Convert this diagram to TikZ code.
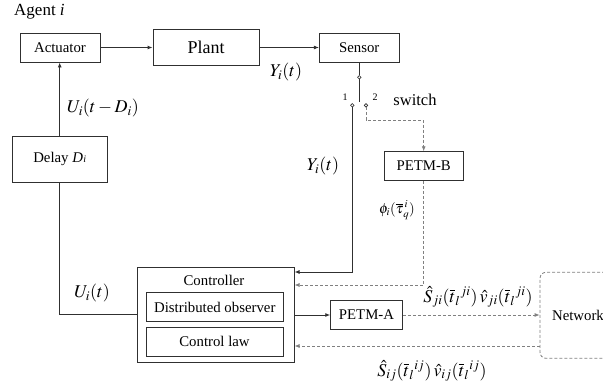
\documentclass[tikz,border=0pt]{standalone}
\usepackage{mathptmx}
\usepackage{fontspec}
\setmainfont{Liberation Serif}
\usetikzlibrary{arrows.meta}
\definecolor{ln}{HTML}{303030}
\definecolor{dl}{HTML}{808080}
\tikzset{
  blk/.style={draw=ln, line width=0.9pt, inner sep=0pt, font=\fontsize{14.8}{17}\selectfont},
  wire/.style={draw=ln, line width=0.9pt},
  dwire/.style={draw=dl, line width=0.8pt, dash pattern=on 3pt off 2pt},
  arr/.style={-{Latex[length=5pt,width=4pt]}},
  lbl/.style={inner sep=0pt, font=\fontsize{14.8}{17}\selectfont},
  mlbl/.style={inner sep=0pt, font=\fontsize{18}{21}\selectfont},
  sw/.style={circle, draw=ln, line width=0.7pt, fill=white, inner sep=0pt, minimum size=3.5pt},
}
\begin{document}
\begin{tikzpicture}[x=1pt,y=-1pt]
\useasboundingbox (0,0) rectangle (603,388);
\clip (0,0) rectangle (603,388);
\node[lbl, font=\fontsize{17}{20}\selectfont, anchor=west] (agent) at (14,12) {Agent \textit{i}};
\node[blk, minimum width=80pt, minimum height=29pt] (act) at (60,47.5) {Actuator};
\node[blk, minimum width=106pt, minimum height=36pt, font=\fontsize{18}{21}\selectfont] (plant) at (206,47) {Plant};
\node[blk, minimum width=79.7pt, minimum height=29pt] (sensor) at (359.2,47.5) {Sensor};
\node[blk, minimum width=95.3pt, minimum height=46.3pt] (delay) at (59.7,159.2) {Delay \textit{D\kern0.3pt\fontsize{10}{12}\selectfont i}};
\node[blk, minimum width=79.3pt, minimum height=28.6pt] (petmb) at (423.7,166) {PETM-B};
\node[blk, minimum width=156.7pt, minimum height=95.4pt] (ctrl) at (215.7,315) {};
\node[lbl] (ctrllbl) at (214,280.7) {Controller};
\node[blk, minimum width=137.7pt, minimum height=28.6pt] (obs) at (214.8,307) {Distributed observer};
\node[blk, minimum width=137pt, minimum height=28.7pt] (law) at (214.5,341.7) {Control law};
\node[blk, minimum width=71.6pt, minimum height=28.6pt] (petma) at (366.5,315) {PETM-A};
\node[blk, draw=dl, line width=0.8pt, dash pattern=on 3pt off 2pt, rounded corners=6pt, minimum width=76pt, minimum height=86pt] (net) at (578,315.3) {Network};

% switch
\node[sw] (swc) at (359.3,77.3) {};
\node[sw] (sw1) at (352.3,105.3) {};
\node[sw] (sw2) at (366,105.3) {};
\coordinate (blade) at (359.3,102);
\node[lbl, font=\fontsize{10}{12}\selectfont] (n1) at (345,97) {1};
\node[lbl, font=\fontsize{10}{12}\selectfont] (n2) at (375,97) {2};
\node[lbl, font=\fontsize{16.5}{19}\selectfont] (swl) at (415,100) {switch};

% connectors
\draw[wire, arr] (act.east) -- (plant.west |- act.east);
\draw[wire, arr] (plant.east |- sensor.west) -- (sensor.west);
\draw[wire, arr] (delay.north) -- (act.south -| delay.north);
\draw[wire] (delay.south) |- (ctrl.west |- 0,314.3);
\draw[wire] (sensor.south -| swc) -- (swc.north);
\draw[wire] (swc.south) -- (blade);
\draw[wire, arr] (sw1.south) |- (ctrl.east |- 0,272);
\draw[dwire, arr] (sw2.south) |- (423.7,120) -- (petmb.north);
\draw[dwire, arr] (petmb.south) |- (ctrl.east |- 0,285);
\draw[wire, arr] (ctrl.east |- petma.west) -- (petma.west);
\draw[dwire, arr] (petma.east) -- (net.west |- petma.east);
\draw[dwire, arr] (net.west |- 0,346) -- (ctrl.east |- 0,346);

% labels
\node[mlbl] (ly1) at (286,72) {$Y_i(t)$};
\node[mlbl] (lu1) at (103,108) {$U_i(t-D_i)$};
\node[mlbl] (ly2) at (323,166) {$Y_i(t)$};
\node[lbl, font=\fontsize{14.5}{17}\selectfont] (lphi) at (397,210) {$\phi_i(\overline{\tau}_q^{\,i})$};
\node[mlbl] (lu2) at (92,293) {$U_i(t)$};
\node[mlbl] (ls1) at (478,297) {$\hat{S}_{ji}(\overline{t}_l{}^{ji})\,\hat{v}_{ji}(\overline{t}_l{}^{ji})$};
\node[mlbl] (ls2) at (432,371) {$\hat{S}_{ij}(\overline{t}_l{}^{ij})\,\hat{v}_{ij}(\overline{t}_l{}^{ij})$};
\end{tikzpicture}
\end{document}
